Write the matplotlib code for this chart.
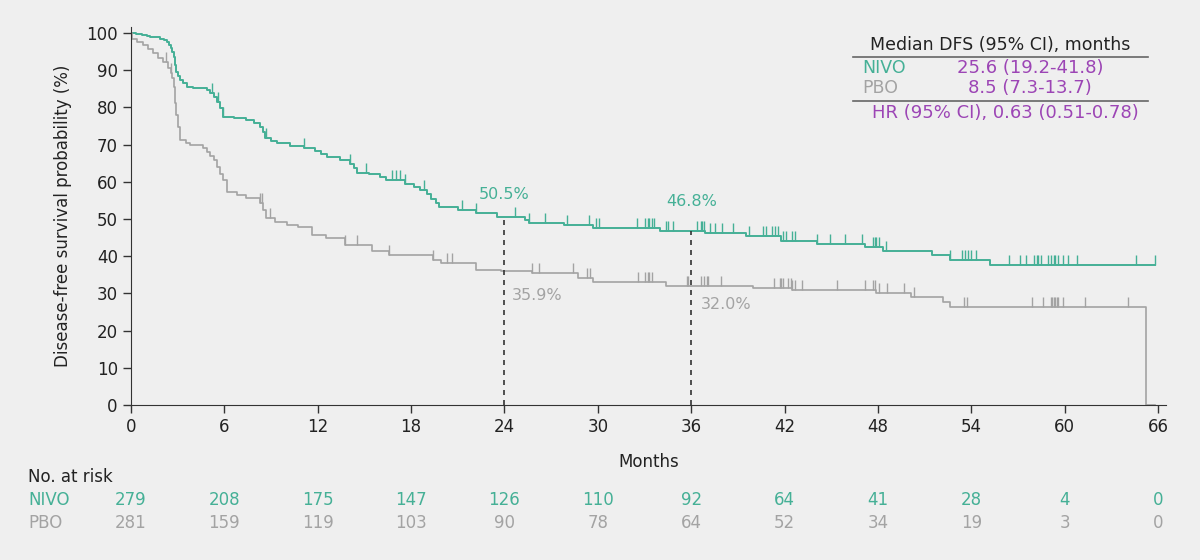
import numpy as np
import matplotlib
matplotlib.use("Agg")
import matplotlib.pyplot as plt
import matplotlib.transforms as mtransforms
from matplotlib.path import Path

plt.rcParams['font.family'] = ['DejaVu Sans']

# Kaplan-Meier steps (months, DFS %)
nivo_t = [0, 0.35, 0.7, 1.0, 1.2, 1.5, 1.86, 2.1, 2.3, 2.45, 2.55, 2.65, 2.75, 2.8, 2.9,
          3.05, 3.15, 3.35, 3.6, 4.0, 4.9, 5.1, 5.3, 5.5, 5.7, 5.9, 6.6, 7.4, 7.9, 8.3,
          8.45, 8.6, 9.0, 9.4, 10.2, 11.1, 11.8, 12.2, 12.6, 13.4, 14.1, 14.3, 14.5, 15.3,
          16.0, 16.4, 17.6, 18.2, 18.6, 19.0, 19.3, 19.6, 19.8, 21.0, 22.2, 23.5, 25.3,
          25.6, 27.8, 29.7, 34.0, 36.9, 39.5, 41.8, 44.1, 47.2, 48.3, 51.5, 52.6, 55.2]
nivo_s = [100, 99.8, 99.5, 99.3, 99.0, 98.8, 98.4, 98.0, 97.5, 96.8, 96.0, 95.0, 93.5, 91.5,
          89.5, 88.3, 87.4, 86.6, 85.6, 85.2, 84.7, 83.8, 82.9, 81.5, 79.8, 77.5, 77.1,
          76.6, 75.7, 74.8, 73.3, 71.8, 71.0, 70.4, 69.7, 69.0, 68.2, 67.4, 66.7, 65.8,
          64.9, 63.6, 62.3, 62.0, 61.4, 60.4, 59.4, 58.6, 57.8, 56.8, 55.5, 54.3, 53.2,
          52.5, 51.6, 50.5, 49.6, 48.9, 48.5, 47.6, 46.8, 46.2, 45.4, 44.2, 43.3, 42.5,
          41.4, 40.3, 39.0, 37.6]
nivo_end = 65.8

pbo_t = [0, 0.05, 0.4, 0.77, 1.1, 1.4, 1.75, 2.06, 2.4, 2.55, 2.65, 2.75, 2.8, 2.85, 2.9,
         3.0, 3.15, 3.5, 3.8, 4.6, 4.9, 5.1, 5.3, 5.5, 5.7, 5.9, 6.15, 6.8, 7.4, 8.3, 8.5,
         8.7, 9.25, 10.0, 10.7, 11.6, 12.5, 13.75, 15.5, 16.6, 19.4, 19.9, 22.2, 23.8,
         25.8, 28.7, 29.7, 34.4, 40.0, 42.5, 47.9, 50.1, 52.2, 52.6, 65.2]
pbo_s = [100, 98.4, 97.6, 96.8, 95.7, 94.6, 93.4, 92.3, 90.6, 89.3, 87.9, 85.5, 83.0, 81.2,
         78.0, 74.8, 71.2, 70.5, 69.9, 69.0, 68.0, 66.9, 65.9, 64.0, 62.0, 60.5, 57.3,
         56.5, 55.6, 54.3, 52.3, 50.3, 49.2, 48.5, 47.8, 45.7, 44.9, 43.0, 41.5, 40.3,
         39.0, 38.2, 36.3, 35.9, 35.5, 34.1, 33.1, 32.0, 31.5, 30.9, 30.1, 29.0, 27.7,
         26.3, 0]
pbo_end = 65.8

# censored observations (months)
nivo_cens = [5.2, 5.6, 5.9, 8.7, 11.1, 14.1, 15.1, 16.8, 17.0, 17.3, 17.6, 18.8, 21.3, 22.2,
             24.7, 25.6, 26.6, 28.0, 29.4, 29.9, 30.1, 32.5, 33.0, 33.2, 33.3, 33.5, 33.6,
             34.4, 34.5, 34.8, 36.4, 36.6, 36.7, 36.8, 37.2, 37.5, 38.0, 38.7, 39.7, 40.6,
             40.8, 41.2, 41.4, 41.6, 41.9, 42.1, 42.5, 42.7, 44.1, 44.9, 45.9, 47.0, 47.7,
             47.8, 47.9, 48.1, 48.5, 52.6, 53.4, 53.6, 53.8, 54.0, 54.3, 56.4, 57.1, 57.5,
             58.0, 58.2, 58.3, 58.5, 58.9, 59.1, 59.3, 59.4, 59.6, 59.9, 60.2, 60.8, 64.6, 65.8]
pbo_cens = [2.25, 2.6, 8.3, 8.4, 8.9, 13.75, 14.5, 16.6, 19.4, 20.3, 20.6, 25.8, 26.2, 28.4,
            29.3, 29.5, 32.6, 33.0, 33.2, 33.3, 33.5, 35.7, 35.8, 36.6, 36.8, 37.0, 37.1, 37.9,
            41.3, 41.7, 41.8, 41.9, 42.2, 42.4, 42.5, 42.7, 43.1, 45.4, 47.2, 47.7, 47.8, 48.1,
            48.6, 49.7, 50.3, 53.5, 53.7, 57.9, 58.6, 59.1, 59.2, 59.3, 59.4, 59.5, 59.6, 59.9,
            61.3, 64.1]

months = [0, 6, 12, 18, 24, 30, 36, 42, 48, 54, 60, 66]
nivo_risk = [279, 208, 175, 147, 126, 110, 92, 64, 41, 28, 4, 0]
pbo_risk = [281, 159, 119, 103, 90, 78, 64, 52, 34, 19, 3, 0]

landmarks = [24, 36]
nivo_land = [50.5, 46.8]
pbo_land = [35.9, 32.0]

teal = '#45b096'
gray = '#a3a3a3'
purple = '#9c45b5'
bg = '#efefef'
dark = '#333333'
txt = '#222222'


def surv_at(t, s, x):
    idx = np.searchsorted(np.array(t), np.array(x), side='right') - 1
    return np.array(s)[idx]


fig = plt.figure(figsize=(12, 5.6), dpi=100, facecolor=bg)
ax = fig.add_axes([0.1092, 0.2768, 0.8623, 0.6743], facecolor=bg)

ax.step(nivo_t + [nivo_end], nivo_s + [nivo_s[-1]], where='post', color=teal, lw=1.4)
ax.step(pbo_t + [pbo_end], pbo_s + [pbo_s[-1]], where='post', color=gray, lw=1.2)

tick_up = Path([(0, 0), (0, 1)])
ax.plot(nivo_cens, surv_at(nivo_t, nivo_s, nivo_cens), ls='none', marker=tick_up,
        ms=14, mew=1.0, color=teal)
ax.plot(pbo_cens, surv_at(pbo_t, pbo_s, pbo_cens), ls='none', marker=tick_up,
        ms=14, mew=1.0, color=gray)

for m, v in zip(landmarks, nivo_land):
    ax.plot([m, m], [0, v], color=dark, lw=1.2, ls=(0, (3, 3)))

ax.text(24, 56.5, f'{nivo_land[0]}%', color=teal, fontsize=11.5, ha='center', va='center')
ax.text(36, 54.6, f'{nivo_land[1]}%', color=teal, fontsize=11.5, ha='center', va='center')
ax.text(24.5, 29.3, f'{pbo_land[0]}%', color=gray, fontsize=11.5, ha='left', va='center')
ax.text(36.6, 26.9, f'{pbo_land[1]}%', color=gray, fontsize=11.5, ha='left', va='center')

ax.set_xlim(0, 66.5)
ax.set_ylim(0, 101.5)
ax.set_xticks(months)
ax.set_yticks(range(0, 101, 10))
ax.tick_params(direction='out', length=6, width=1, colors=dark, labelsize=12,
               labelcolor=txt)
for side in ['top', 'right']:
    ax.spines[side].set_visible(False)
for side in ['left', 'bottom']:
    ax.spines[side].set_color(dark)
ax.set_ylabel('Disease-free survival probability (%)', fontsize=12, color=txt)
ax.yaxis.set_label_coords(-0.057, 0.5)
ax.text(0.5, -0.151, 'Months', transform=ax.transAxes, ha='center', va='center',
        fontsize=12, color=txt)

# number at risk
trans = mtransforms.blended_transform_factory(ax.transData, fig.transFigure)
fig.text(28 / 1200, 1 - 477 / 560, 'No. at risk', fontsize=12, color=txt, va='center')
fig.text(28 / 1200, 1 - 500 / 560, 'NIVO', fontsize=12, color=teal, va='center')
fig.text(28 / 1200, 1 - 523 / 560, 'PBO', fontsize=12, color=gray, va='center')
for m, n, p in zip(months, nivo_risk, pbo_risk):
    ax.text(m, 1 - 500 / 560, str(n), transform=trans, ha='center', va='center',
            fontsize=12, color=teal)
    ax.text(m, 1 - 523 / 560, str(p), transform=trans, ha='center', va='center',
            fontsize=12, color=gray)

# median / HR box
fig.text(1000 / 1200, 1 - 45 / 560, 'Median DFS (95% CI), months', fontsize=12.5,
         color=txt, ha='center', va='center')
fig.add_artist(plt.Line2D([853 / 1200, 1148 / 1200], [1 - 57 / 560] * 2, color='#666666', lw=1.2))
fig.add_artist(plt.Line2D([853 / 1200, 1148 / 1200], [1 - 101 / 560] * 2, color='#666666', lw=1.2))
fig.text(862 / 1200, 1 - 68 / 560, 'NIVO', fontsize=12.5, color=teal, va='center')
fig.text(862 / 1200, 1 - 88 / 560, 'PBO', fontsize=12.5, color=gray, va='center')
fig.text(1030 / 1200, 1 - 68 / 560, '25.6 (19.2-41.8)', fontsize=13, color=purple,
         ha='center', va='center')
fig.text(1030 / 1200, 1 - 88 / 560, '8.5 (7.3-13.7)', fontsize=13, color=purple,
         ha='center', va='center')
fig.text(1005 / 1200, 1 - 113 / 560, 'HR (95% CI), 0.63 (0.51-0.78)', fontsize=13,
         color=purple, ha='center', va='center')

fig.savefig('out.png', dpi=100, facecolor=bg)
